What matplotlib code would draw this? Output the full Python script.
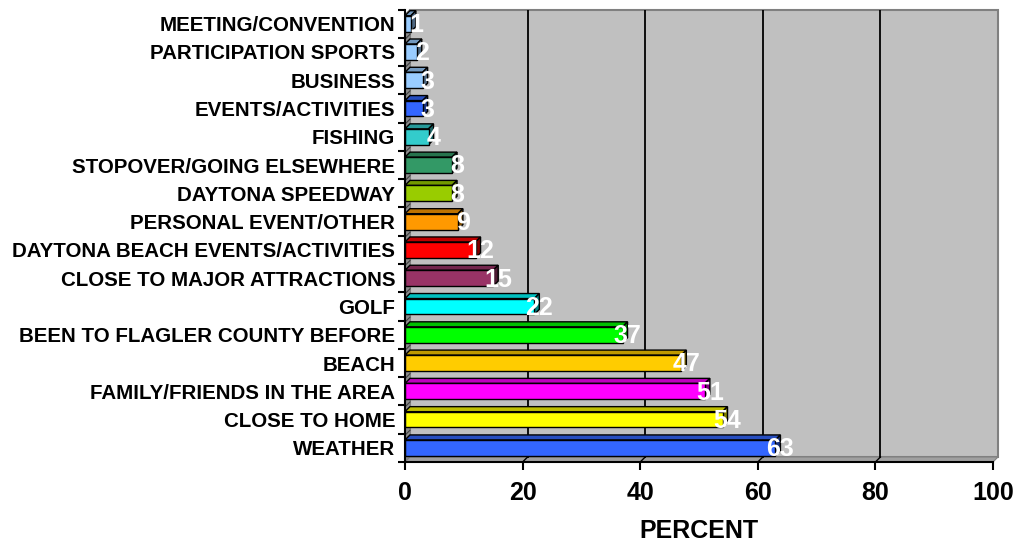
import matplotlib.pyplot as plt
from matplotlib.patches import Polygon, Rectangle
from matplotlib.colors import to_rgb

# bottom row first
categories = ["WEATHER", "CLOSE TO HOME", "FAMILY/FRIENDS IN THE AREA", "BEACH",
              "BEEN TO FLAGLER COUNTY BEFORE", "GOLF", "CLOSE TO MAJOR ATTRACTIONS",
              "DAYTONA BEACH EVENTS/ACTIVITIES", "PERSONAL EVENT/OTHER",
              "DAYTONA SPEEDWAY", "STOPOVER/GOING ELSEWHERE", "FISHING",
              "EVENTS/ACTIVITIES", "BUSINESS", "PARTICIPATION SPORTS",
              "MEETING/CONVENTION"]
values = [63, 54, 51, 47, 37, 22, 15, 12, 9, 8, 8, 4, 3, 3, 2, 1]
colors = ["#3366FF", "#FFFF00", "#FF00FF", "#FFCC00", "#00FF00", "#00FFFF",
          "#993366", "#FF0000", "#FF9900", "#99CC00", "#339966", "#33CCCC",
          "#3366FF", "#99CCFF", "#99CCFF", "#99CCFF"]
xticks = [0, 20, 40, 60, 80, 100]

plt.rcParams['font.family'] = ['Liberation Sans', 'DejaVu Sans']
plt.rcParams['font.weight'] = 'bold'

fig = plt.figure(figsize=(10.18, 5.48), dpi=100)
ax = fig.add_axes([405 / 1018, 1 - 462 / 548, 588 / 1018, 452.5 / 548])
ax.set_xlim(0, 100)
ax.set_ylim(-0.5, 15.5)
ax.set_facecolor('none')

# depth of the 3d effect in data units (about 5 px each way)
dx = 0.85
dy = 0.177
y0, y1 = -0.5, 15.5
bh = 0.56

# back wall
ax.add_patch(Polygon([(dx, y0 + dy), (100 + dx, y0 + dy), (100 + dx, y1),
                      (dx, y1)], closed=True, facecolor='#C0C0C0',
                     edgecolor='#808080', lw=1.5, zorder=0, clip_on=False))
# left wall
ax.add_patch(Polygon([(0, y0), (dx, y0 + dy), (dx, y1), (0, y1 - dy)],
                     closed=True, facecolor='#8C8C8C', edgecolor='#808080',
                     lw=0.8, zorder=0.5, clip_on=False))
# floor
ax.add_patch(Polygon([(0, y0), (100, y0), (100 + dx, y0 + dy), (dx, y0 + dy)],
                     closed=True, facecolor='#A0A0A0', edgecolor='#808080',
                     lw=0.8, zorder=0.5, clip_on=False))

for t in xticks[1:-1]:
    ax.plot([t + dx, t + dx], [y0 + dy, y1], color='black', lw=1.3, zorder=1)
    ax.plot([t, t + dx], [y0, y0 + dy], color='black', lw=1.0, zorder=1)
for b in range(1, 16):
    yb = b - 0.5
    ax.plot([0, dx], [yb - dy * 0.3, yb + dy * 0.7], color='#404040', lw=0.8,
            zorder=1)

# bars with top and end faces
for i, (v, c) in enumerate(zip(values, colors)):
    r, g, bl = to_rgb(c)
    top_c = (r * 0.75, g * 0.75, bl * 0.75)
    side_c = (r * 0.5, g * 0.5, bl * 0.5)
    lo, hi = i - bh / 2, i + bh / 2
    ax.add_patch(Polygon([(0, hi), (v, hi), (v + dx, hi + dy), (dx, hi + dy)],
                         closed=True, facecolor=top_c, edgecolor='black',
                         lw=1.0, zorder=3))
    ax.add_patch(Polygon([(v, lo), (v + dx, lo + dy), (v + dx, hi + dy), (v, hi)],
                         closed=True, facecolor=side_c, edgecolor='black',
                         lw=1.0, zorder=3))
    ax.add_patch(Rectangle((0, lo), v, bh, facecolor=c, edgecolor='black',
                           lw=1.0, zorder=4))
    ax.text(v + dx, i - 0.05, str(v), color='white', fontsize=18,
            fontweight='bold', ha='center', va='center', zorder=6)

for side in ['top', 'right']:
    ax.spines[side].set_visible(False)
ax.spines['left'].set_linewidth(1.5)
ax.spines['bottom'].set_linewidth(1.5)
ax.spines['left'].set_zorder(5)
ax.spines['bottom'].set_zorder(5)

ax.set_yticks(range(16))
ax.set_yticklabels(categories, fontsize=14.8, fontweight='bold')
ax.set_yticks([b - 0.5 for b in range(17)], minor=True)
ax.tick_params(axis='y', which='major', length=0, pad=7)
ax.tick_params(axis='y', which='minor', length=5, width=1.5, color='black')

ax.set_xticks(xticks)
ax.set_xticklabels([str(t) for t in xticks], fontsize=18, fontweight='bold')
ax.tick_params(axis='x', length=6, width=1.5, pad=8)
ax.set_xlabel('PERCENT', fontsize=18, fontweight='bold', labelpad=10)

fig.savefig('out.png', dpi=100)
